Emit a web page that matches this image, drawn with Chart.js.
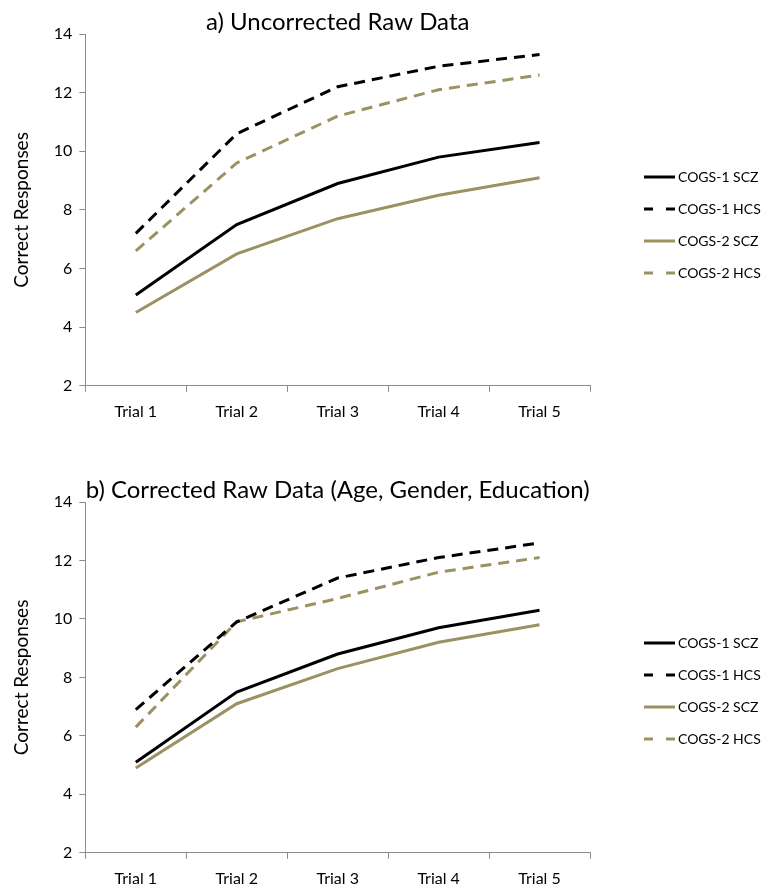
<!DOCTYPE html>
<html>
<head>
<meta charset="utf-8">
<script src="https://cdn.jsdelivr.net/npm/chart.js@4.4.0/dist/chart.umd.min.js"></script>
<style>
  body { margin: 0; background: #fff; }
  .panel { position: relative; width: 761px; }
</style>
</head>
<body>
<div class="panel" style="height:445px"><canvas id="chartA"></canvas></div>
<div class="panel" style="height:444px"><canvas id="chartB"></canvas></div>
<script>
// x-axis categories
const trials = ['Trial 1', 'Trial 2', 'Trial 3', 'Trial 4', 'Trial 5'];
const seriesNames = ['COGS-1 SCZ', 'COGS-1 HCS', 'COGS-2 SCZ', 'COGS-2 HCS'];

// a) uncorrected raw data
const rawCogs1Scz = [5.1, 7.5, 8.9, 9.8, 10.3];
const rawCogs1Hcs = [7.2, 10.6, 12.2, 12.9, 13.3];
const rawCogs2Scz = [4.5, 6.5, 7.7, 8.5, 9.1];
const rawCogs2Hcs = [6.6, 9.6, 11.2, 12.1, 12.6];

// b) corrected for age, gender, education
const corCogs1Scz = [5.1, 7.5, 8.8, 9.7, 10.3];
const corCogs1Hcs = [6.9, 9.9, 11.4, 12.1, 12.6];
const corCogs2Scz = [4.9, 7.1, 8.3, 9.2, 9.8];
const corCogs2Hcs = [6.3, 9.9, 10.7, 11.6, 12.1];

const yTicks = [2, 4, 6, 8, 10, 12, 14];

const black = '#000000';
const olive = '#9c9163';
const fontFam = 'Lato, "Open Sans", sans-serif';

// simple legend drawn to the right of the plot, using each dataset's style
const sideLegend = {
    id: 'sideLegend',
    afterDraw(chart, args, opts) {
        const ctx = chart.ctx;
        ctx.save();
        chart.data.datasets.forEach((ds, i) => {
            const y = opts.top + i * opts.gap;
            ctx.strokeStyle = ds.borderColor;
            ctx.lineWidth = ds.borderWidth;
            ctx.setLineDash(ds.borderDash && ds.borderDash.length ? [9, 13] : []);
            ctx.beginPath();
            ctx.moveTo(opts.x, y);
            ctx.lineTo(opts.x + 31, y);
            ctx.stroke();
            ctx.setLineDash([]);
            ctx.fillStyle = '#000';
            ctx.font = '14px ' + fontFam;
            ctx.textBaseline = 'middle';
            ctx.fillText(ds.label, opts.x + 34, y);
        });
        ctx.restore();
    }
};

function makeDatasets(s1, h1, s2, h2) {
    const vals = [s1, h1, s2, h2];
    const colors = [black, black, olive, olive];
    return vals.map((v, i) => ({
        label: seriesNames[i],
        data: v,
        borderColor: colors[i],
        backgroundColor: colors[i],
        borderWidth: 3,
        borderDash: i % 2 === 1 ? [11, 7] : [],
        pointRadius: 0,
        fill: false,
        tension: 0
    }));
}

function makeChart(id, titleText, datasets, pad, legendTop) {
    return new Chart(document.getElementById(id), {
        type: 'line',
        data: { labels: trials, datasets: datasets },
        options: {
            responsive: true,
            maintainAspectRatio: false,
            animation: false,
            layout: { padding: { left: 10, right: 171, top: pad.top, bottom: pad.bottom } },
            scales: {
                x: {
                    offset: true,
                    grid: { offset: true, drawOnChartArea: false, color: '#8c8c8c', tickLength: 6 },
                    border: { color: '#8c8c8c' },
                    ticks: { color: '#000', font: { family: fontFam, size: 16 }, padding: 10 }
                },
                y: {
                    min: 2,
                    max: 14,
                    afterBuildTicks: axis => { axis.ticks = yTicks.map(v => ({ value: v })); },
                    grid: { drawOnChartArea: false, color: '#8c8c8c', tickLength: 6 },
                    border: { color: '#8c8c8c' },
                    ticks: { color: '#000', font: { family: fontFam, size: 16 }, padding: 7 },
                    title: {
                        display: true,
                        text: 'Correct Responses',
                        color: '#000',
                        font: { family: fontFam, size: 19 },
                        padding: { top: 0, bottom: 14 }
                    }
                }
            },
            plugins: {
                legend: { display: false },
                tooltip: { enabled: false },
                title: {
                    display: true,
                    text: titleText,
                    color: '#000',
                    fullSize: false,
                    font: { family: fontFam, size: 24, weight: 'normal', lineHeight: 1.0 },
                    padding: { top: 0, bottom: 0 }
                },
                sideLegend: { x: 644, top: legendTop, gap: 32 }
            }
        },
        plugins: [sideLegend]
    });
}

makeChart('chartA', 'a) Uncorrected Raw Data',
    makeDatasets(rawCogs1Scz, rawCogs1Hcs, rawCogs2Scz, rawCogs2Hcs),
    { top: 10, bottom: 14 }, 177);

makeChart('chartB', 'b) Corrected Raw Data (Age, Gender, Education)',
    makeDatasets(corCogs1Scz, corCogs1Hcs, corCogs2Scz, corCogs2Hcs),
    { top: 33, bottom: -9 }, 198);
</script>
</body>
</html>
